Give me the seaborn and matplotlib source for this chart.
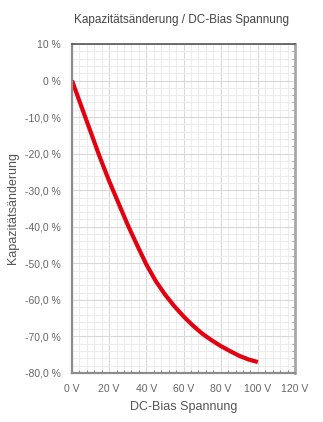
import numpy as np
import pandas as pd
import seaborn as sns
import matplotlib
matplotlib.use("Agg")
import matplotlib.pyplot as plt
from matplotlib.ticker import MultipleLocator, FixedLocator, FixedFormatter

voltage = [0, 5, 10, 15, 20, 25, 30, 35, 40, 45, 50, 55, 60, 65, 70, 75, 80, 85, 90, 95, 100]
change = [0, -7, -14, -21, -27.5, -33.5, -39.5, -45, -50.3, -54.8, -58.5, -61.7, -64.5, -67, -69.2, -71, -72.6, -74, -75.3, -76.3, -77]

x_ticks = [0, 20, 40, 60, 80, 100, 120]
x_labels = ["0 V", "20 V", "40 V", "60 V", "80 V", "100 V", "120 V"]
y_ticks = [10, 0, -10, -20, -30, -40, -50, -60, -70, -80]
y_labels = ["10 %", "0 %", "-10,0 %", "-20,0 %", "-30,0 %", "-40,0 %", "-50,0 %", "-60,0 %", "-70,0 %", "-80,0 %"]

title = "Kapazitätsänderung / DC-Bias Spannung"
xlabel = "DC-Bias Spannung"
ylabel = "Kapazitätsänderung"

sns.set_style("white")
plt.rcParams['font.family'] = ['Liberation Sans', 'DejaVu Sans']

df = pd.DataFrame({"V": voltage, "C": change})

fig = plt.figure(figsize=(3.23, 4.22), dpi=100)
ax = fig.add_axes([72/323, 49/422, 223/323, 329/422])

ax.set_xlim(0, 120)
ax.set_ylim(-80, 10)
ax.xaxis.set_major_locator(FixedLocator(x_ticks))
ax.xaxis.set_major_formatter(FixedFormatter(x_labels))
ax.yaxis.set_major_locator(FixedLocator(y_ticks))
ax.yaxis.set_major_formatter(FixedFormatter(y_labels))
ax.xaxis.set_minor_locator(MultipleLocator(4))
ax.yaxis.set_minor_locator(MultipleLocator(2))

ax.grid(which='major', color='#d9d9d9', linewidth=0.8)
ax.grid(which='minor', color='#ececec', linewidth=0.8)
ax.set_axisbelow(True)

sns.lineplot(data=df, x="V", y="C", ax=ax, color="#e3000f", linewidth=3.0, solid_capstyle='butt')

for s in ['left', 'bottom']:
    ax.spines[s].set_color('#8c8c8c')
    ax.spines[s].set_linewidth(1.6)
ax.spines['top'].set_color('#555555')
ax.spines['top'].set_linewidth(1.2)
ax.spines['right'].set_color('#a8a8a8')
ax.spines['right'].set_linewidth(2.0)
ax.spines['top'].set_visible(True)
ax.spines['right'].set_visible(True)

ax.tick_params(axis='both', which='major', direction='out', length=4, width=0.8, color='#8c8c8c',
               labelsize=7.5, labelcolor='#666666', pad=4)
ax.tick_params(axis='x', which='minor', direction='in', length=2, width=0.8, color='#8c8c8c', bottom=True)
ax.tick_params(axis='y', which='minor', direction='in', length=2, width=0.8, color='#a8a8a8', left=False, right=True)

ax.set_xlabel(xlabel, fontsize=9, color='#555555', labelpad=5)
ax.set_ylabel(ylabel, fontsize=9, color='#555555', labelpad=4)
fig.text(182/323, 402/422, title, ha='center', va='center', fontsize=8.5, color='#444444')

fig.savefig("out.png", dpi=100, facecolor='white')
